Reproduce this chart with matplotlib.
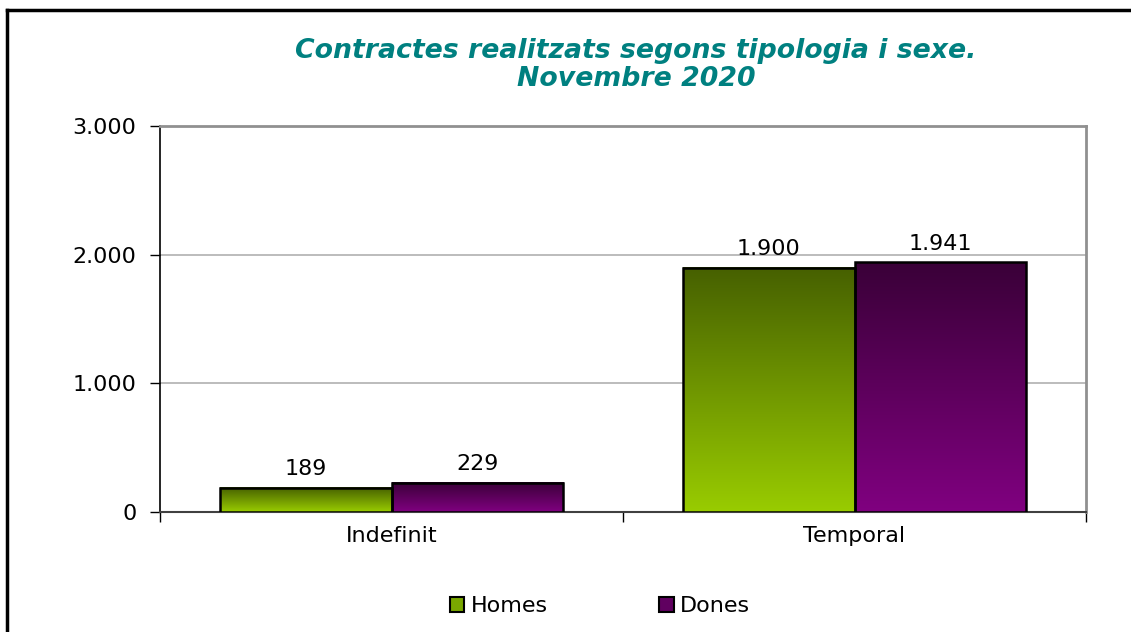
import numpy as np
import matplotlib
matplotlib.use("Agg")
import matplotlib.pyplot as plt
from matplotlib.lines import Line2D
from matplotlib.patches import Patch
from matplotlib.colors import LinearSegmentedColormap

plt.rcParams['font.family'] = ['DejaVu Sans']

categories = ["Indefinit", "Temporal"]
series_names = ["Homes", "Dones"]
homes = [189, 1900]
dones = [229, 1941]
value_labels_homes = ["189", "1.900"]
value_labels_dones = ["229", "1.941"]
yticks = [0, 1000, 2000, 3000]
ytick_labels = ["0", "1.000", "2.000", "3.000"]
title = "Contractes realitzats segons tipologia i sexe.\nNovembre 2020"

green_top, green_bot = "#466000", "#99cc00"
purple_top, purple_bot = "#3a0038", "#800080"

fig = plt.figure(figsize=(11.31, 6.32), dpi=100)
ax = fig.add_axes([160/1131, 1-512/632, (1086-160)/1131, (512-126)/632])

x = np.arange(len(categories))
w = 0.37

def grad_bars(xpos, vals, ctop, cbot):
    cmap = LinearSegmentedColormap.from_list("g", [cbot, ctop])
    bars = ax.bar(xpos, vals, w, facecolor="none", edgecolor="black", linewidth=1.8, zorder=4)
    grad = np.linspace(0, 1, 256).reshape(-1, 1)
    for r in bars:
        x0, y0 = r.get_x(), r.get_y()
        ax.imshow(grad, cmap=cmap, origin="lower", aspect="auto",
                  extent=[x0, x0 + r.get_width(), y0, y0 + r.get_height()], zorder=3)
    return bars

b1 = grad_bars(x - w/2, homes, green_top, green_bot)
b2 = grad_bars(x + w/2, dones, purple_top, purple_bot)

for bars, labels in ((b1, value_labels_homes), (b2, value_labels_dones)):
    for r, lab in zip(bars, labels):
        ax.annotate(lab, (r.get_x() + r.get_width()/2, r.get_height()),
                    xytext=(0, 6), textcoords="offset points", ha="center", va="bottom",
                    fontsize=16, color="black", zorder=5)

ax.set_xlim(-0.5, 1.5)
ax.set_ylim(0, 3000)
ax.set_yticks(yticks)
ax.set_yticklabels(ytick_labels, fontsize=16)
ax.set_xticks([-0.5, 0.5, 1.5])
ax.set_xticklabels([])
ax.set_xticks(x, minor=True)
ax.set_xticklabels(categories, minor=True, fontsize=16)
ax.tick_params(axis="x", which="minor", length=0, pad=10)
ax.tick_params(axis="x", which="major", length=7, width=1, color="black", direction="out")
ax.tick_params(axis="y", length=7, width=1, color="black", direction="out", pad=10)
ax.grid(axis="y", color="#b0b0b0", linewidth=1.2, zorder=0)
ax.set_axisbelow(True)
for s in ("top", "right"):
    ax.spines[s].set_color("#909090")
    ax.spines[s].set_linewidth(2)
ax.spines["left"].set_color("black")
ax.spines["left"].set_linewidth(1.2)
ax.spines["bottom"].set_color("#404040")
ax.spines["bottom"].set_linewidth(1.5)
ax.set_zorder(1)

fig.text(636/1131, 1-65/632, title, ha="center", va="center", fontsize=19.3,
         fontweight="bold", fontstyle="italic", color="#008080", linespacing=1.1)

handles = [Patch(facecolor="#7aa800", edgecolor="black", linewidth=1.5),
           Patch(facecolor="#600060", edgecolor="black", linewidth=1.5)]
fig.legend(handles, series_names, loc="center", bbox_to_anchor=(600/1131, 1-606/632),
           ncol=2, frameon=False, fontsize=16, handlelength=0.65, handleheight=0.65,
           handletextpad=0.3, columnspacing=5.0, borderpad=0)

# outer frame
fig.add_artist(Line2D([7/1131, 1.0], [1-10/632, 1-10/632], transform=fig.transFigure,
                      color="black", linewidth=2.5))
fig.add_artist(Line2D([7/1131, 7/1131], [0, 1-10/632], transform=fig.transFigure,
                      color="black", linewidth=2.5))

fig.savefig("out.png", dpi=100)
